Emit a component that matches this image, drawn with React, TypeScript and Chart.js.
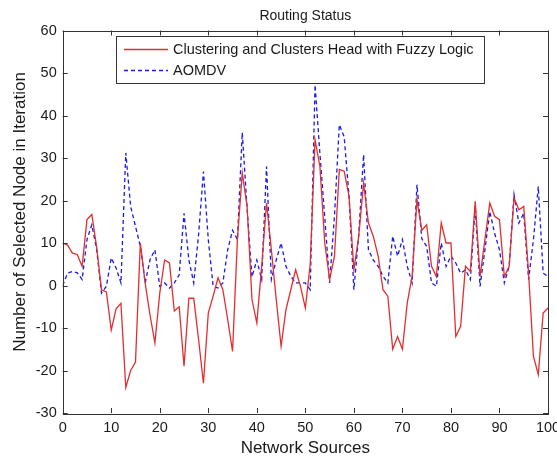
import React, { useEffect, useRef } from "react";
import { Chart, registerables } from "chart.js";

Chart.register(...registerables);

const TITLE = "Routing Status";
const X_TITLE = "Network Sources";
const Y_TITLE = "Number of Selected Node in Iteration";
const SERIES_NAMES = ["Clustering and Clusters Head with Fuzzy Logic", "AOMDV"];

const X_MIN = 0;
const X_MAX = 100;
const Y_MIN = -30;
const Y_MAX = 60;
const X_STEP = 10;
const Y_STEP = 10;

const fuzzyValues = [
  10, 9.5, 7.6, 7.3, 4.5, 15.5, 16.7, 9, -1, -1.5,
  -10.5, -5.5, -4.2, -24, -20, -18, 10, 0.5, -7, -13.5,
  -1.8, 6, 5.3, -6, -5, -19, -3, -3, -12.7, -23,
  -6.5, -2.5, 1.8, -1, -8, -15.5, 10.8, 26.5, 18.6, -3.3,
  -8.8, 4.5, 19.4, 8.4, -3.3, -14.3, -5.7, -1, 3.7, -0.2,
  -5.3, 5, 34.3, 28, 10, 1.4, 6.9, 27.3, 26.9, 21,
  3.7, 11.6, 24.1, 14.7, 11.6, 6.9, -1, -2.5, -15, -12,
  -15, -4.1, 2.2, 20.2, 13, 14.3, 4.5, 2.1, 14.7, 10,
  10, -12, -9.6, 4.5, 3.3, 19.8, 2.1, 10.8, 19.4, 16.3,
  15.5, 2.1, 4.5, 20.6, 17.8, 18.6, 2.9, -16.7, -21, -6.5,
  -5.3,
];

const aomdvValues = [
  0, 2.9, 3.3, 3, 1.4, 10.8, 14.3, 8.4, -1.8, -0.2,
  6.5, 4.1, 0.6, 31.2, 18.6, 13.9, 9.2, 0.6, 6.1, 8.4,
  -0.2, 0.6, -0.6, 0.6, 2.5, 17, 6, 0.6, 12, 26.8,
  10.8, -0.2, -0.6, 0.6, 8.4, 13, 10.8, 36, 18, 2,
  6, 1.4, 28, 1.4, 6, 10, 4.5, 2.2, 0.6, 0.6,
  0.6, -1, 47.2, 31, 16, 0.6, 16.3, 37.8, 35, 21,
  -1, 12, 30.8, 8.4, 6, 4.5, 2.2, 0.6, 11.6, 6.9,
  10.8, 4.5, 0.6, 23.7, 11, 9.2, 0.6, -0.2, 10, 4.5,
  6.9, 5.3, 2.9, 3.7, 1.4, 18.6, -0.2, 8.4, 17.4, 12.3,
  8.4, 0.6, 4.5, 21.4, 14.7, 17, 1.4, 10.8, 23.3, 2.9,
  2.1,
];

const RED = "rgb(228,45,45)";
const BLUE = "rgb(25,25,235)";
const FONT = "'Liberation Sans', Arial, sans-serif";
const TEXT = "#1a1a1a";

const toPoints = (vals: number[]) => vals.map((v, i) => ({ x: X_MIN + i, y: v }));

const decorPlugin = {
  id: "decor",
  afterDraw(chart: any) {
    const ctx = chart.ctx as CanvasRenderingContext2D;
    const a = chart.chartArea;
    const xs = chart.scales.x;
    const ys = chart.scales.y;
    ctx.save();
    ctx.strokeStyle = "#333";
    ctx.lineWidth = 1;
    ctx.strokeRect(Math.round(a.left) + 0.5, Math.round(a.top) + 0.5, Math.round(a.right - a.left), Math.round(a.bottom - a.top));
    const tl = 5;
    ctx.beginPath();
    for (let v = X_MIN; v <= X_MAX; v += X_STEP) {
      const px = Math.round(xs.getPixelForValue(v)) + 0.5;
      ctx.moveTo(px, a.bottom);
      ctx.lineTo(px, a.bottom - tl);
      ctx.moveTo(px, a.top);
      ctx.lineTo(px, a.top + tl);
    }
    for (let v = Y_MIN; v <= Y_MAX; v += Y_STEP) {
      const py = Math.round(ys.getPixelForValue(v)) + 0.5;
      ctx.moveTo(a.left, py);
      ctx.lineTo(a.left + tl, py);
      ctx.moveTo(a.right, py);
      ctx.lineTo(a.right - tl, py);
    }
    ctx.stroke();

    ctx.fillStyle = TEXT;
    ctx.textAlign = "center";
    ctx.textBaseline = "middle";
    ctx.font = `14px ${FONT}`;
    ctx.fillText(TITLE, (a.left + a.right) / 2, 16);
    ctx.font = `17px ${FONT}`;
    ctx.fillText(X_TITLE, (a.left + a.right) / 2, 448);
    ctx.save();
    ctx.translate(20, 212);
    ctx.rotate(-Math.PI / 2);
    ctx.fillText(Y_TITLE, 0, 0);
    ctx.restore();

    const lx = 116, ly = 36, lw = 368, lh = 47;
    ctx.fillStyle = "#fff";
    ctx.fillRect(lx, ly, lw, lh);
    ctx.strokeStyle = "#333";
    ctx.strokeRect(lx + 0.5, ly + 0.5, lw, lh);
    const rows = [49, 70];
    const colors = [RED, BLUE];
    const dashes = [[], [4, 3]];
    rows.forEach((ry, i) => {
      ctx.strokeStyle = colors[i];
      ctx.lineWidth = 1.3;
      ctx.setLineDash(dashes[i]);
      ctx.beginPath();
      ctx.moveTo(124, ry + 0.5);
      ctx.lineTo(168, ry + 0.5);
      ctx.stroke();
      ctx.setLineDash([]);
      ctx.fillStyle = TEXT;
      ctx.textAlign = "left";
      ctx.font = `14.5px ${FONT}`;
      ctx.fillText(SERIES_NAMES[i], 173, ry + 1);
    });
    ctx.restore();
  },
};

export default function App() {
  const ref = useRef<HTMLCanvasElement | null>(null);
  useEffect(() => {
    if (!ref.current) return;
    const chart = new Chart(ref.current, {
      type: "line",
      data: {
        datasets: [
          {
            label: SERIES_NAMES[0],
            data: toPoints(fuzzyValues),
            borderColor: RED,
            borderWidth: 1.3,
            pointRadius: 0,
            tension: 0,
            fill: false,
          },
          {
            label: SERIES_NAMES[1],
            data: toPoints(aomdvValues),
            borderColor: BLUE,
            borderWidth: 1.3,
            borderDash: [4, 3],
            pointRadius: 0,
            tension: 0,
            fill: false,
          },
        ],
      },
      options: {
        animation: false,
        responsive: false,
        maintainAspectRatio: false,
        layout: { padding: { left: 0, right: 9, top: 30.5, bottom: 0 } },
        plugins: { legend: { display: false }, title: { display: false }, tooltip: { enabled: false } },
        scales: {
          x: {
            type: "linear",
            min: X_MIN,
            max: X_MAX,
            grid: { display: false, drawTicks: false },
            border: { display: false },
            ticks: { stepSize: X_STEP, color: TEXT, font: { family: FONT, size: 14.5 }, padding: 6, maxRotation: 0 },
            afterFit: (s: any) => {
              s.height = 44;
              s.paddingLeft = 0;
              s.paddingRight = 0;
            },
          },
          y: {
            type: "linear",
            min: Y_MIN,
            max: Y_MAX,
            grid: { display: false, drawTicks: false },
            border: { display: false },
            ticks: { stepSize: Y_STEP, color: TEXT, font: { family: FONT, size: 14.5 }, padding: 6 },
            afterFit: (s: any) => {
              s.width = 62.7;
              s.paddingTop = 0;
              s.paddingBottom = 0;
            },
          },
        },
      },
      plugins: [decorPlugin],
    });
    return () => chart.destroy();
  }, []);
  return (
    <div style={{ position: "fixed", left: 0, top: 0, width: 557, height: 457, background: "#fff" }}>
      <canvas ref={ref} width={557} height={457} style={{ width: 557, height: 457, display: "block" }} />
    </div>
  );
}
